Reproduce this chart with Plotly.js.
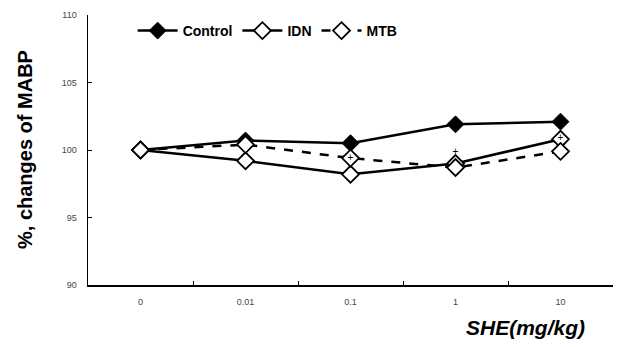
<!DOCTYPE html>
<html><head><meta charset="utf-8">
<script src="https://cdn.plot.ly/plotly-3.0.1.min.js"></script>
<style>html,body{margin:0;padding:0;background:#fff}#c{width:618px;height:347px}</style>
</head><body><div id="c"></div>
<script>
const categories = ["0", "0.01", "0.1", "1", "10"];
const controlVals = [100, 100.7, 100.5, 101.9, 102.1];
const idnVals = [100, 99.2, 98.2, 99.0, 100.8];
const mtbVals = [100, 100.4, 99.4, 98.7, 99.9];
const sigX = ["0.1", "1", "10"];
const sigY = [99.35, 99.85, 100.85];
const yTicks = [90, 95, 100, 105, 110];

const traces = [
  {x: categories, y: controlVals, name: "<b>Control</b>", mode: "lines+markers", type: "scatter",
   line: {color: "#000", width: 2.5}, marker: {symbol: "diamond", size: 13, color: "#000", line: {color: "#000", width: 1}}},
  {x: categories, y: idnVals, name: "<b>IDN</b>", mode: "lines+markers", type: "scatter",
   line: {color: "#000", width: 2.5}, marker: {symbol: "diamond", size: 13, color: "#fff", line: {color: "#000", width: 1.8}}},
  {x: categories, y: mtbVals, name: "<b>MTB</b>", mode: "lines+markers", type: "scatter",
   line: {color: "#000", width: 2.5, dash: "dash"}, marker: {symbol: "diamond", size: 13, color: "#fff", line: {color: "#000", width: 1.8}}},
  {x: sigX, y: sigY, mode: "text", text: sigX.map(() => "+"), showlegend: false, type: "scatter",
   textfont: {size: 10, color: "#000", family: "Arial"}, hoverinfo: "skip"}
];

const layout = {
  width: 618, height: 347,
  margin: {l: 88, r: 5, t: 15, b: 62},
  paper_bgcolor: "#fff", plot_bgcolor: "#fff",
  showlegend: true,
  legend: {orientation: "h", x: 0.085, y: 1.0, xanchor: "left", yanchor: "top",
    font: {family: "Arial", size: 14, color: "#000"}, itemwidth: 40, bgcolor: "rgba(0,0,0,0)"},
  xaxis: {type: "category", range: [-0.5, 4.5], showline: true, linecolor: "#000", linewidth: 1.5,
    ticks: "inside", ticklen: 4, tickcolor: "#000", tickson: "boundaries", showgrid: false, zeroline: false,
    tickfont: {family: "Arial", size: 9, color: "#444"}, ticklabelstandoff: 8},
  yaxis: {range: [90, 110], tickvals: yTicks, showline: true, linecolor: "#000", linewidth: 1.5,
    ticks: "inside", ticklen: 4, tickcolor: "#000", showgrid: false, zeroline: false,
    tickfont: {family: "Arial", size: 9, color: "#444"}, ticklabelstandoff: 8},
  annotations: [
    {text: "<b>%, changes of MABP</b>", xref: "paper", yref: "paper", x: -0.12, y: 0.5, xanchor: "center", yanchor: "middle",
     textangle: -90, showarrow: false, font: {family: "Arial", size: 20, color: "#000"}},
    {text: "<b><i>SHE(mg/kg)</i></b>", xref: "paper", yref: "paper", x: 0.95, y: 0, yshift: -42, xanchor: "right", yanchor: "middle",
     showarrow: false, font: {family: "Arial", size: 21, color: "#000"}}
  ]
};
Plotly.newPlot("c", traces, layout, {displayModeBar: false, staticPlot: true});
</script></body></html>
